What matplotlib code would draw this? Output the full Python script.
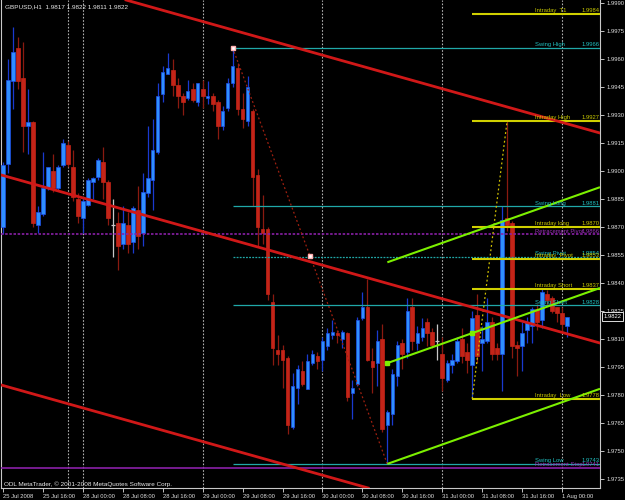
import numpy as np
import matplotlib.pyplot as plt
import matplotlib.transforms as mtransforms

plt.rcParams['font.family'] = ['Liberation Sans', 'DejaVu Sans']

# GBPUSD H1 bars (bar index 0 = 25 Jul 2008 08:00)
opens = [1.9870, 1.9904, 1.9948, 1.9966, 1.9950, 1.9924, 1.9926, 1.9871, 1.9877, 1.9891,
         1.9900, 1.9891, 1.9903, 1.9914, 1.9902, 1.9885, 1.9875, 1.9882, 1.9894, 1.9897,
         1.9905, 1.9894, 1.9871, 1.9872, 1.9861, 1.9871, 1.9862, 1.9879, 1.9867, 1.9888,
         1.9895, 1.9910, 1.9941, 1.9952, 1.9954, 1.9946, 1.9940, 1.9939, 1.9944, 1.9937,
         1.9944, 1.9939, 1.9940, 1.9937, 1.9924, 1.9934, 1.9947, 1.9955, 1.9933, 1.9927,
         1.9932, 1.9898, 1.9869, 1.9869, 1.9830, 1.9804, 1.9804, 1.9800, 1.9763, 1.9784,
         1.9793, 1.9783, 1.9797, 1.9801, 1.9799, 1.9806, 1.9812, 1.9813, 1.9810, 1.9813,
         1.9781, 1.9786, 1.9821, 1.9827, 1.9798, 1.9797, 1.9810, 1.9764, 1.9770, 1.9790,
         1.9808, 1.9803, 1.9827, 1.9808, 1.9811, 1.9819, 1.9814, 1.9809, 1.9802, 1.9788,
         1.9796, 1.9798, 1.9810, 1.9803, 1.9796, 1.9823, 1.9808, 1.9809, 1.9819, 1.9805,
         1.9802, 1.9875, 1.9872, 1.9807, 1.9806, 1.9815, 1.9817, 1.9826, 1.9820, 1.9834,
         1.9832, 1.9827, 1.9824, 1.9817]
highs = [1.9905, 1.9960, 1.9977, 1.9972, 1.9969, 1.9944, 1.9927, 1.9881, 1.9910, 1.9902,
         1.9909, 1.9903, 1.9917, 1.9916, 1.9911, 1.9888, 1.9886, 1.9896, 1.9897, 1.9907,
         1.9913, 1.9895, 1.9885, 1.9878, 1.9881, 1.9878, 1.9881, 1.9892, 1.9899, 1.9924,
         1.9928, 1.9947, 1.9956, 1.9963, 1.9960, 1.9950, 1.9942, 1.9949, 1.9947, 1.9947,
         1.9949, 1.9948, 1.9942, 1.9938, 1.9935, 1.9950, 1.9966, 1.9958, 1.9942, 1.9951,
         1.9933, 1.9901, 1.9887, 1.9870, 1.9834, 1.9812, 1.9807, 1.9801, 1.9792, 1.9796,
         1.9798, 1.9802, 1.9804, 1.9803, 1.9811, 1.9816, 1.9820, 1.9815, 1.9815, 1.9814,
         1.9788, 1.9822, 1.9835, 1.9842, 1.9805, 1.9815, 1.9818, 1.9772, 1.9794, 1.9809,
         1.9810, 1.9832, 1.9832, 1.9817, 1.9821, 1.9821, 1.9816, 1.9818, 1.9811, 1.9799,
         1.9802, 1.9811, 1.9816, 1.9808, 1.9825, 1.9834, 1.9817, 1.9832, 1.9822, 1.9808,
         1.9881, 1.9927, 1.9873, 1.9809, 1.9819, 1.9822, 1.9827, 1.9829, 1.9837, 1.9836,
         1.9833, 1.9827, 1.9827, 1.9822]
lows = [1.9866, 1.9899, 1.9933, 1.9944, 1.9910, 1.9909, 1.9870, 1.9867, 1.9876, 1.9890,
        1.9889, 1.9890, 1.9902, 1.9902, 1.9884, 1.9872, 1.9867, 1.9881, 1.9885, 1.9895,
        1.9885, 1.9871, 1.9854, 1.9847, 1.9858, 1.9856, 1.9856, 1.9858, 1.9860, 1.9886,
        1.9879, 1.9909, 1.9937, 1.9952, 1.9940, 1.9934, 1.9930, 1.9938, 1.9937, 1.9935,
        1.9934, 1.9936, 1.9932, 1.9917, 1.9922, 1.9932, 1.9945, 1.9930, 1.9923, 1.9924,
        1.9881, 1.9860, 1.9861, 1.9831, 1.9796, 1.9796, 1.9784, 1.9759, 1.9762, 1.9775,
        1.9785, 1.9783, 1.9796, 1.9794, 1.9793, 1.9804, 1.9810, 1.9808, 1.9805, 1.9777,
        1.9767, 1.9785, 1.9820, 1.9798, 1.9781, 1.9785, 1.9760, 1.9743, 1.9764, 1.9785,
        1.9794, 1.9800, 1.9804, 1.9804, 1.9809, 1.9806, 1.9805, 1.9799, 1.9782, 1.9787,
        1.9792, 1.9797, 1.9797, 1.9792, 1.9778, 1.9797, 1.9793, 1.9808, 1.9799, 1.9799,
        1.9782, 1.9868, 1.9800, 1.9790, 1.9793, 1.9808, 1.9808, 1.9815, 1.9816, 1.9828,
        1.9824, 1.9819, 1.9813, 1.9811]
closes = [1.9903, 1.9949, 1.9964, 1.9948, 1.9924, 1.9926, 1.9872, 1.9878, 1.9891, 1.9902,
          1.9891, 1.9902, 1.9915, 1.9904, 1.9886, 1.9876, 1.9884, 1.9895, 1.9896, 1.9906,
          1.9894, 1.9875, 1.9871, 1.9860, 1.9872, 1.9861, 1.9880, 1.9865, 1.9889, 1.9896,
          1.9911, 1.9940, 1.9953, 1.9955, 1.9946, 1.9940, 1.9937, 1.9943, 1.9938, 1.9947,
          1.9940, 1.9940, 1.9936, 1.9924, 1.9932, 1.9947, 1.9956, 1.9933, 1.9928, 1.9945,
          1.9897, 1.9870, 1.9867, 1.9834, 1.9805, 1.9802, 1.9799, 1.9764, 1.9785, 1.9794,
          1.9786, 1.9798, 1.9802, 1.9798, 1.9809, 1.9813, 1.9814, 1.9812, 1.9814, 1.9779,
          1.9784, 1.9820, 1.9827, 1.9799, 1.9795, 1.9809, 1.9762, 1.9771, 1.9791, 1.9807,
          1.9802, 1.9825, 1.9809, 1.9813, 1.9816, 1.9813, 1.9807, 1.9809, 1.9789, 1.9797,
          1.9799, 1.9809, 1.9801, 1.9799, 1.9821, 1.9801, 1.9810, 1.9819, 1.9802, 1.9802,
          1.9874, 1.9871, 1.9806, 1.9805, 1.9813, 1.9819, 1.9826, 1.9819, 1.9835, 1.9831,
          1.9825, 1.9824, 1.9818, 1.9822]

time_ticks = [0, 8, 16, 24, 32, 40, 48, 56, 64, 72, 80, 88, 96, 104, 112]
time_labels = ['25 Jul 2008', '25 Jul 16:00', '28 Jul 00:00', '28 Jul 08:00', '28 Jul 16:00',
               '29 Jul 00:00', '29 Jul 08:00', '29 Jul 16:00', '30 Jul 00:00', '30 Jul 08:00',
               '30 Jul 16:00', '31 Jul 00:00', '31 Jul 08:00', '31 Jul 16:00', '1 Aug 00:00']
day_separators = [13, 16, 40, 64, 88, 112]
price_ticks = [1.9735, 1.9750, 1.9765, 1.9780, 1.9795, 1.9810, 1.9825, 1.9840, 1.9855,
               1.9870, 1.9885, 1.9900, 1.9915, 1.9930, 1.9945, 1.9960, 1.9975, 1.9990]

# pivot levels: name, value, kind
level_names = ['Intraday  T1', 'Swing High', 'Intraday High', 'Swing Long', 'Intraday long',
               'Retracement Pivot', 'Swing Pivot', 'Intraday  Pivot', 'Intraday Short',
               'Swing Short', 'Intraday  Low', 'Swing Low', 'Retracement Stop']
level_values = [1.9984, 1.9966, 1.9927, 1.9881, 1.9870, 1.9866, 1.9854, 1.9853, 1.9837,
                1.9828, 1.9778, 1.9743, 1.9741]
level_kinds = ['intraday', 'swing', 'intraday', 'swing', 'intraday', 'retrace', 'swing',
               'intraday', 'intraday', 'swing', 'intraday', 'swing', 'retrace']

# regression channel (red) and up channel (green)
red_x = [0, 113]
red_mid = [1.98976, 1.98128]
red_width = 0.01125
green_x = [77, 113]
green_mid = [1.97971, 1.98311]
green_width = 0.0054

# zigzag legs
swing_leg_x = [46, 77]
swing_leg_y = [1.9966, 1.9743]
day_leg_x = [94, 101]
day_leg_y = [1.9778, 1.9927]

# ------------------------------------------------------------
fig = plt.figure(figsize=(6.25, 5), dpi=100, facecolor='black')
ax = fig.add_axes([1 / 625, 12 / 500, 599 / 625, 488 / 500])
ax.set_facecolor('black')
x_left, x_right = -0.4, 119.6
ax.set_xlim(x_left, x_right)
ax.set_ylim(1.97302, 1.99916)

o = np.array(opens)
h = np.array(highs)
l = np.array(lows)
c = np.array(closes)
x = np.arange(len(o))
up = c > o
dn = c < o
dj = c == o

# candles
ax.vlines(x[up], l[up], h[up], color='#1a3ad0', lw=0.9, zorder=2)
ax.vlines(x[dn], l[dn], h[dn], color='#8a1a10', lw=0.9, zorder=2)
ax.vlines(x[dj], l[dj], h[dj], color='#c8c8c8', lw=0.9, zorder=2)
ax.bar(x[up], (c - o)[up], bottom=o[up], width=0.7, color='#2f8fff',
       edgecolor='#1e50e8', lw=0.5, zorder=3)
ax.bar(x[dn], (o - c)[dn], bottom=c[dn], width=0.75, color='#c42418',
       edgecolor='#c42418', lw=0.5, zorder=3)
ax.hlines(o[dj], x[dj] - 0.4, x[dj] + 0.4, color='#c8c8c8', lw=0.9, zorder=3)

# day separators
for s in day_separators:
    ax.axvline(s, color='#b0b0b0', lw=0.8, ls=(0, (1.5, 1.5)), zorder=1)

# pivot levels
styles = {
    'intraday': dict(color='#d0d000', lw=1.5, ls='-', start=94, tc='#c8c800'),
    'swing': dict(color='#20a8a8', lw=0.9, ls='-', start=46, tc='#20c0c0'),
    'retrace': dict(color='#8a20a8', lw=1.2, ls='-', start=x_left, tc='#9a30b8'),
}
for name, val, kind in zip(level_names, level_values, level_kinds):
    st = styles[kind]
    ls = st['ls']
    if name in ('Swing Pivot', 'Retracement Pivot'):
        ls = (0, (1.5, 1))
    ax.hlines(val, st['start'], x_right, color=st['color'], lw=st['lw'], ls=ls, zorder=4)
    ax.annotate(name, (106.6, val), xytext=(0, 0.6), textcoords='offset points',
                ha='left', va='bottom', fontsize=4.2, color=st['tc'], zorder=6)
    ax.annotate('%.4f' % val, (116.0, val), xytext=(0, 0.6), textcoords='offset points',
                ha='left', va='bottom', fontsize=4.2, color=st['tc'], zorder=6)

# red regression channel
for k in (-1, 0, 1):
    ax.axline((red_x[0], red_mid[0] + k * red_width), (red_x[1], red_mid[1] + k * red_width),
              color='#d01818', lw=2.0, zorder=5)

# green channel
g_slope = (green_mid[1] - green_mid[0]) / (green_x[1] - green_x[0])
g_end = green_mid[0] + g_slope * (x_right - green_x[0])
for k in (-1, 0, 1):
    ax.plot([green_x[0], x_right], [green_mid[0] + k * green_width, g_end + k * green_width],
            color='#7cf000', lw=1.5, zorder=5, solid_capstyle='butt')
for bx in (77, 94):
    ax.plot(bx, green_mid[0] + g_slope * (bx - green_x[0]), 's', ms=2.5, color='#7cf000', zorder=6)

# zigzag legs
ax.plot(swing_leg_x, swing_leg_y, color='#a02010', lw=0.9, ls=(0, (1.5, 2)), zorder=4)
ax.plot(day_leg_x, day_leg_y, color='#d0c000', lw=0.9, ls=(0, (1.5, 2)), zorder=4)
ax.plot(swing_leg_x[0], swing_leg_y[0], 's', ms=2.2, color='white', mec='#ffb0b0', zorder=6)
ax.plot(np.mean(swing_leg_x), np.mean(swing_leg_y), 's', ms=2.2, color='white',
        mec='#ffb0b0', zorder=6)

# axes styling
for side in ('left', 'right', 'bottom'):
    ax.spines[side].set_color('#c8c8c8')
    ax.spines[side].set_linewidth(0.8)
ax.spines['top'].set_visible(False)
ax.yaxis.tick_right()
ax.set_yticks(price_ticks)
ax.set_yticklabels(['%.4f' % p for p in price_ticks])
ax.set_xticks(time_ticks)
ax.set_xticklabels(time_labels, ha='left')
ax.tick_params(axis='both', colors='#e0e0e0', labelsize=4.2, length=3, width=0.6, pad=1.5)
ax.tick_params(axis='y', pad=2)

# current price box
trans = mtransforms.blended_transform_factory(ax.transAxes, ax.transData)
ax.text(1.006, closes[-1], '%.4f' % closes[-1], transform=trans, ha='left', va='center',
        fontsize=4.2, color='white', zorder=10, clip_on=False,
        bbox=dict(boxstyle='square,pad=0.3', fc='black', ec='white', lw=0.6))

fig.text(5 / 625, 1 - 7 / 500, 'GBPUSD,H1  %.4f %.4f %.4f %.4f' % (opens[-1], highs[-1], lows[-1], closes[-1]),
         color='#e8e8e8', fontsize=4.6, va='center', ha='left')
fig.text(4 / 625, 1 - 484 / 500, 'ODL MetaTrader, \u00a9 2001-2008 MetaQuotes Software Corp.',
         color='#e8e8e8', fontsize=4.6, va='center', ha='left')

fig.savefig('out.png', dpi=100, facecolor='black')
